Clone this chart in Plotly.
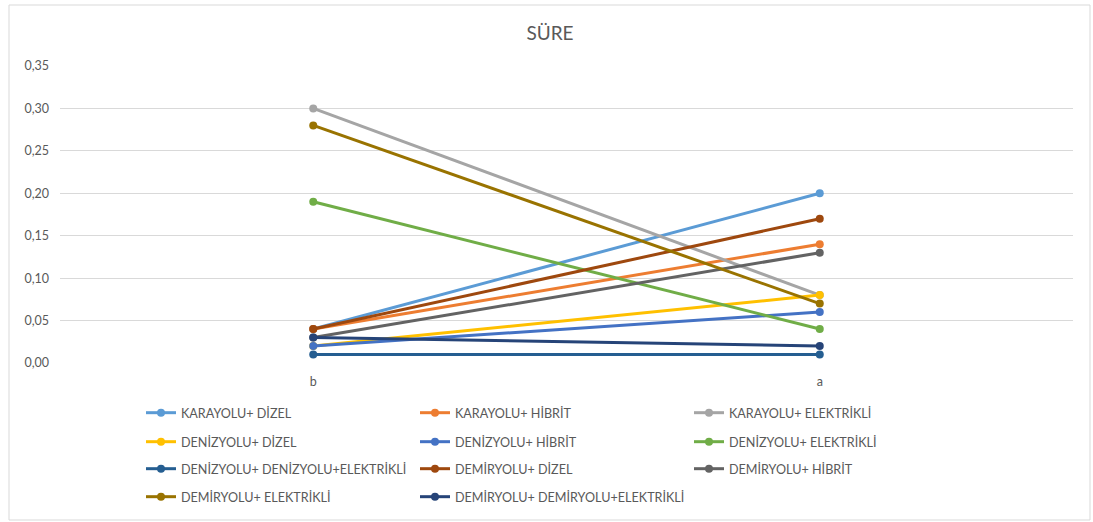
import plotly.graph_objects as go

# Categories on the x axis
categories = ["b", "a"]

# Series names and their values at b and a
series_names = [
    "KARAYOLU+ DİZEL",
    "KARAYOLU+ HİBRİT",
    "KARAYOLU+ ELEKTRİKLİ",
    "DENİZYOLU+ DİZEL",
    "DENİZYOLU+ HİBRİT",
    "DENİZYOLU+ ELEKTRİKLİ",
    "DENİZYOLU+ DENİZYOLU+ELEKTRİKLİ",
    "DEMİRYOLU+ DİZEL",
    "DEMİRYOLU+ HİBRİT",
    "DEMİRYOLU+ ELEKTRİKLİ",
    "DEMİRYOLU+ DEMİRYOLU+ELEKTRİKLİ",
]
karayolu_dizel = [0.04, 0.20]
karayolu_hibrit = [0.04, 0.14]
karayolu_elektrikli = [0.30, 0.08]
denizyolu_dizel = [0.02, 0.08]
denizyolu_hibrit = [0.02, 0.06]
denizyolu_elektrikli = [0.19, 0.04]
denizyolu_denizyolu_elektrikli = [0.01, 0.01]
demiryolu_dizel = [0.04, 0.17]
demiryolu_hibrit = [0.03, 0.13]
demiryolu_elektrikli = [0.28, 0.07]
demiryolu_demiryolu_elektrikli = [0.03, 0.02]

series_values = [
    karayolu_dizel, karayolu_hibrit, karayolu_elektrikli,
    denizyolu_dizel, denizyolu_hibrit, denizyolu_elektrikli,
    denizyolu_denizyolu_elektrikli, demiryolu_dizel, demiryolu_hibrit,
    demiryolu_elektrikli, demiryolu_demiryolu_elektrikli,
]
colors = [
    "#5B9BD5", "#ED7D31", "#A5A5A5", "#FFC000", "#4472C4", "#70AD47",
    "#255E91", "#9E480E", "#636363", "#997300", "#264478",
]
y_ticks = [0.0, 0.05, 0.10, 0.15, 0.20, 0.25, 0.30, 0.35]

FONT = "Lato"
GREY = "#595959"

# Figure geometry in pixels
W, H = 1093, 522
ML, MR, MT, MB = 60, 20, 66, 159
PW = W - ML - MR
PH = H - MT - MB

def px_x(x):
    return (x - ML) / PW

def px_y(y):
    return (H - MB - y) / PH

fig = go.Figure()
legend_keys = ["legend", "legend2", "legend3", "legend4"]
for i, (name, vals, col) in enumerate(zip(series_names, series_values, colors)):
    fig.add_trace(go.Scatter(
        x=categories, y=vals, name=name, mode="lines+markers",
        line=dict(color=col, width=3),
        marker=dict(color=col, size=8),
        legend=legend_keys[i // 3],
        hoverinfo="skip",
    ))

# One legend per row so the row spacing can be set exactly
row_tops = [398, 427, 454, 482]
legend_common = dict(
    orientation="h", entrywidth=229, entrywidthmode="pixels",
    font=dict(family=FONT, size=12.6, color=GREY),
    bgcolor="rgba(0,0,0,0)", xanchor="left", yanchor="top",
    itemclick=False, itemdoubleclick=False, tracegroupgap=0,
)
legends = {}
for key, top in zip(legend_keys, row_tops):
    legends[key] = dict(legend_common, x=px_x(141), y=px_y(top))

fig.update_layout(
    width=W, height=H,
    margin=dict(l=ML, r=MR, t=MT, b=MB, autoexpand=False),
    paper_bgcolor="white", plot_bgcolor="white",
    separators=",.",
    showlegend=True,
    title=dict(text="SÜRE", x=550 / W, xanchor="center", xref="container",
               y=1 - 33 / H, yref="container", yanchor="middle",
               font=dict(family=FONT, size=19, color=GREY)),
    xaxis=dict(type="category", range=[-0.5, 1.5], showgrid=False,
               zeroline=False, showline=False, ticks="",
               tickfont=dict(family=FONT, size=12.5, color=GREY),
               ticklabelstandoff=9),
    yaxis=dict(range=[0, 0.35], tickvals=y_ticks, tickformat=".2f",
               showgrid=True, gridcolor="#D9D9D9", gridwidth=1,
               zeroline=False, showline=False, ticks="",
               tickfont=dict(family=FONT, size=12.5, color=GREY),
               ticklabelstandoff=10),
    shapes=[dict(type="rect", xref="paper", yref="paper",
                 x0=px_x(9), x1=px_x(1090), y0=px_y(520), y1=px_y(5),
                 line=dict(color="#D9D9D9", width=1), layer="below")],
    **legends,
)

fig.write_html("out.html")
